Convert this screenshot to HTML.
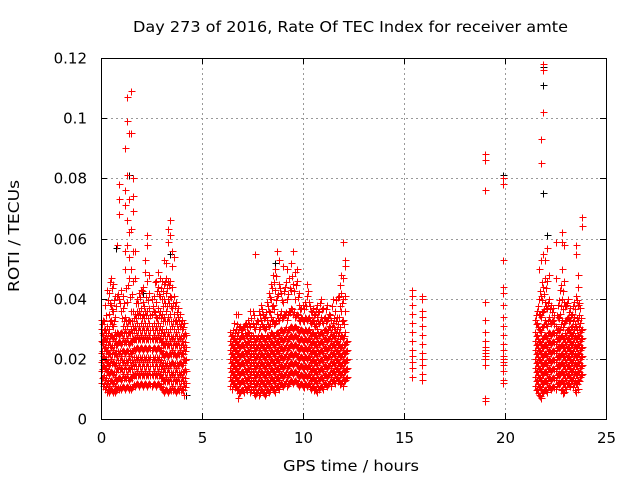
<!DOCTYPE html>
<html><head><meta charset="utf-8"><style>
body{margin:0;background:#fff}
svg{display:block;font-family:"DejaVu Sans","Liberation Sans",sans-serif}
</style></head><body>
<svg id="chart" width="640" height="480" viewBox="0 0 640 480">
<rect width="640" height="480" fill="#fff"/>
<text x="133" y="32" font-size="15" textLength="435" lengthAdjust="spacingAndGlyphs" fill="#000">Day 273 of 2016, Rate Of TEC Index for receiver amte</text>
<g id="grid"></g>
<g id="marks" shape-rendering="crispEdges"></g>
<rect x="101.5" y="58.5" width="505" height="361" fill="none" stroke="#000" stroke-width="1"/>
<g id="axes"></g>
<text x="283" y="471" font-size="15" textLength="136" lengthAdjust="spacingAndGlyphs">GPS time / hours</text>
<text transform="translate(19,292) rotate(-90)" font-size="15" textLength="112" lengthAdjust="spacingAndGlyphs">ROTI / TECUs</text>
</svg>
<script>
const xTicks=[0,5,10,15,20,25];
const yTicks=[0,0.02,0.04,0.06,0.08,0.1,0.12];
const yTickLabels=["0","0.02","0.04","0.06","0.08","0.1","0.12"];
const times=[0.0,0.1,0.2,0.3,0.4,0.5,0.6,0.7,0.8,0.9,1.0,1.1,1.2,1.3,1.4,1.5,1.6,1.7,1.8,1.9,2.0,2.1,2.2,2.3,2.4,2.5,2.6,2.7,2.8,2.9,3.0,3.1,3.2,3.3,3.4,3.5,3.6,3.7,3.8,3.9,4.0,4.1,4.2,
6.4,6.5,6.6,6.7,6.8,6.9,7.0,7.1,7.2,7.3,7.4,7.5,7.6,7.7,7.8,7.9,8.0,8.1,8.2,8.3,8.4,8.5,8.6,8.7,8.8,8.9,9.0,9.1,9.2,9.3,9.4,9.5,9.6,9.7,9.8,9.9,10.0,10.1,10.2,10.3,10.4,10.5,10.6,10.7,10.8,10.9,11.0,11.1,11.2,11.3,11.4,11.5,11.6,11.7,11.8,11.9,12.0,12.1,12.2,
15.4,15.9,19.0,19.9,
21.5,21.6,21.7,21.8,21.9,22.0,22.1,22.2,22.3,22.4,22.5,22.6,22.7,22.8,22.9,23.0,23.1,23.2,23.3,23.4,23.5,23.6,23.7,23.8];
const rotiValues=[
[.012,.016,.019,.022,.026,.030,.033],
[.011,.014,.018,.021,.025,.028,.033,.026],
[.010,.013,.017,.020,.024,.027,.030,.038],
[.009,.012,.016,.019,.023,.027,.031,.043],
[.009,.011,.015,.018,.022,.026,.030,.035,.042],
[.010,.013,.016,.020,.024,.028,.033,.038,.047],
[.009,.012,.015,.019,.023,.027,.031,.036,.045],
[.009,.011,.014,.018,.022,.026,.029,.034,.041],
[.010,.013,.017,.021,.025,.029,.041,.058],
[.010,.014,.018,.022,.026,.028,.040,.068,.073,.078],
[.010,.013,.017,.021,.025,.029,.036,.043],
[.011,.015,.019,.023,.027,.031,.037,.041],
[.010,.014,.018,.022,.026,.030,.034,.050,.056,.071,.076,.090],
[.011,.015,.019,.023,.027,.031,.039,.058,.066,.081,.099,.107],
[.010,.013,.017,.021,.025,.029,.033,.047,.054,.062,.073,.095],
[.010,.014,.018,.022,.026,.030,.036,.050,.063,.095,.109],
[.011,.015,.019,.023,.027,.031,.036,.046,.056,.069,.074,.080],
[.011,.015,.019,.023,.027,.031,.035,.047,.056],
[.012,.016,.020,.024,.028,.032,.036,.040],
[.011,.015,.019,.023,.027,.031,.036,.042],
[.012,.016,.020,.024,.028,.032,.037,.043],
[.011,.015,.019,.023,.027,.031,.035,.039,.044],
[.012,.016,.020,.024,.028,.032,.036,.049,.053],
[.011,.015,.019,.023,.027,.031,.036,.046,.058,.061],
[.012,.016,.020,.024,.028,.032,.037,.042,.048],
[.011,.015,.019,.023,.027,.031,.035,.040],
[.012,.016,.020,.024,.028,.032,.036,.041],
[.011,.015,.019,.023,.027,.031,.034,.039,.046],
[.012,.016,.020,.024,.028,.032,.037,.044,.049],
[.011,.015,.019,.023,.027,.031,.036,.041,.047],
[.010,.014,.018,.022,.026,.030,.035,.040,.046],
[.009,.013,.017,.021,.025,.029,.034,.040,.045,.053],
[.010,.014,.018,.022,.026,.030,.036,.042,.047,.052],
[.009,.013,.017,.021,.025,.029,.034,.040,.046,.059,.063],
[.010,.014,.018,.022,.026,.030,.035,.041,.046,.061,.066],
[.011,.015,.019,.023,.027,.031,.037,.044,.051,.056],
[.010,.014,.018,.022,.026,.030,.035,.041,.054],
[.009,.013,.017,.021,.025,.029,.033,.039],
[.010,.014,.018,.022,.026,.030,.034,.037],
[.011,.015,.019,.023,.027,.031,.035],
[.010,.014,.018,.022,.026,.030,.033],
[.008,.012,.016,.020,.024,.028,.032],
[.012,.016,.020,.024,.028],
[.011,.014,.017,.020,.023,.026,.029],
[.010,.013,.016,.019,.022,.025,.028],
[.012,.015,.018,.021,.024,.027,.032],
[.011,.014,.017,.020,.023,.026,.030,.035],
[.007,.010,.013,.016,.019,.022,.025,.029,.035],
[.009,.012,.015,.018,.021,.024,.027,.031],
[.010,.013,.016,.019,.022,.025,.028,.030],
[.009,.012,.015,.018,.021,.024,.027,.031],
[.010,.013,.016,.019,.022,.025,.028,.032],
[.011,.014,.017,.020,.023,.026,.029,.033],
[.009,.012,.015,.018,.021,.024,.027,.031,.036],
[.010,.013,.016,.019,.022,.025,.028,.032,.036],
[.008,.011,.014,.017,.020,.023,.026,.030,.055],
[.009,.012,.015,.018,.021,.024,.027,.033],
[.008,.011,.014,.017,.020,.023,.026,.030,.036],
[.010,.013,.016,.019,.022,.025,.028,.033,.038],
[.009,.012,.015,.018,.021,.024,.027,.031,.035],
[.008,.011,.014,.017,.020,.023,.026,.030,.034],
[.010,.013,.016,.019,.022,.025,.028,.033,.039],
[.009,.012,.015,.018,.021,.024,.027,.031,.036,.042],
[.011,.014,.017,.020,.023,.026,.029,.034,.040,.045],
[.010,.013,.016,.019,.022,.025,.028,.033,.038,.048],
[.009,.012,.015,.018,.021,.024,.027,.032,.043,.050],
[.011,.014,.017,.020,.023,.026,.029,.035,.041,.056],
[.010,.013,.016,.019,.022,.025,.028,.033,.045,.053],
[.012,.015,.018,.021,.024,.027,.030,.036,.042],
[.011,.014,.017,.020,.023,.026,.029,.034,.039,.051],
[.012,.015,.018,.021,.024,.027,.030,.035,.044],
[.011,.014,.017,.020,.023,.026,.029,.033,.040,.050],
[.012,.015,.018,.021,.024,.027,.030,.036,.047],
[.013,.016,.019,.022,.025,.028,.031,.037,.043,.052],
[.012,.015,.018,.021,.024,.027,.030,.035,.045,.056],
[.013,.016,.019,.022,.025,.028,.031,.034,.040,.049],
[.012,.015,.018,.021,.024,.027,.030,.035,.046,.050],
[.011,.014,.017,.020,.023,.026,.029,.033,.038,.042],
[.012,.015,.018,.021,.024,.027,.030,.034,.037],
[.011,.014,.017,.020,.023,.026,.029,.033,.038],
[.012,.015,.018,.021,.024,.027,.030,.034,.039],
[.011,.014,.017,.020,.023,.026,.029,.033,.041,.045],
[.012,.015,.018,.021,.024,.027,.030,.034,.039],
[.010,.013,.016,.019,.022,.025,.028,.032,.036],
[.011,.014,.017,.020,.023,.026,.029,.033,.037],
[.010,.013,.016,.019,.022,.025,.028,.031,.035],
[.009,.012,.015,.018,.021,.024,.027,.030,.034,.038],
[.010,.013,.016,.019,.022,.025,.028,.032,.036],
[.011,.014,.017,.020,.023,.026,.029,.034,.040],
[.010,.013,.016,.019,.022,.025,.028,.032,.037],
[.012,.015,.018,.021,.024,.027,.030,.034],
[.011,.014,.017,.020,.023,.026,.029,.033,.038],
[.012,.015,.018,.021,.024,.027,.031,.035],
[.011,.014,.017,.020,.023,.026,.029,.033],
[.013,.016,.019,.022,.025,.028,.032,.040],
[.012,.015,.018,.021,.024,.027,.030,.036],
[.014,.017,.020,.023,.026,.030,.034],
[.013,.016,.019,.022,.025,.029,.034,.041],
[.012,.015,.018,.021,.024,.028,.036,.042,.048],
[.011,.014,.017,.020,.023,.027,.033,.040,.047,.059],
[.013,.016,.019,.022,.025,.029,.036,.041,.051,.053],
[.014,.017,.020,.023,.026],
[.014,.017,.019,.021,.023,.026,.029,.032,.035,.038,.041,.043],
[.013,.015,.018,.020,.022,.025,.028,.031,.034,.036,.040,.041],
[.006,.007,.018,.020,.021,.022,.023,.024,.026,.029,.033,.039,.076,.086,.088],
[.012,.013,.016,.018,.019,.020,.021,.023,.025,.028,.031,.034,.038,.042,.044,.053,.078,.080],
[.011,.014,.017,.020,.023,.026,.029,.033],
[.010,.013,.016,.019,.022,.025,.028,.032,.036],
[.008,.011,.014,.017,.020,.023,.026,.030,.035,.040,.050],
[.007,.010,.013,.016,.019,.022,.025,.029,.034,.041,.053,.085,.093],
[.009,.012,.015,.018,.021,.024,.027,.031,.036,.044,.055,.102,.116,.118],
[.010,.013,.016,.019,.022,.025,.028,.033,.039,.047,.053],
[.009,.012,.015,.018,.021,.024,.027,.031,.037,.046,.057],
[.011,.014,.017,.020,.023,.026,.029,.034,.040,.048],
[.010,.013,.016,.019,.022,.025,.028,.032,.038],
[.011,.014,.017,.020,.023,.026,.029,.033,.037],
[.010,.013,.016,.019,.022,.025,.028,.031,.047,.059],
[.012,.015,.018,.021,.024,.027,.030,.034,.038],
[.012,.015,.018,.021,.024,.027,.030,.035,.043],
[.010,.013,.016,.019,.022,.025,.028,.033,.040,.050,.059,.062],
[.009,.012,.015,.018,.021,.024,.027,.032,.039,.046,.058],
[.010,.013,.016,.019,.022,.025,.028,.033,.038],
[.012,.015,.018,.021,.024,.027,.030,.034,.040],
[.011,.014,.017,.020,.023,.026,.029,.033,.037],
[.013,.016,.019,.022,.025,.028,.031,.035],
[.012,.015,.018,.021,.024,.027,.030,.034,.039],
[.009,.012,.015,.018,.021,.024,.027,.031,.041,.055,.058],
[.010,.013,.016,.019,.022,.025,.028,.033,.038,.044,.048],
[.014,.017,.020,.023,.026,.029,.032,.037],
[.015,.018,.021,.024,.027,.030,.064,.067]];
const times2=[0.05,0.15,0.25,0.35,0.45,0.55,0.65,0.75,0.85,0.95,1.05,1.15,1.25,1.35,1.45,1.55,1.65,1.75,1.85,1.95,2.05,2.15,2.25,2.35,2.45,2.55,2.65,2.75,2.85,2.95,3.05,3.15,3.25,3.35,3.45,3.55,3.65,3.75,3.85,3.95,4.05,4.15,
6.45,6.55,6.65,6.75,6.85,6.95,7.05,7.15,7.25,7.35,7.45,7.55,7.65,7.75,7.85,7.95,8.05,8.15,8.25,8.35,8.45,8.55,8.65,8.75,8.85,8.95,9.05,9.15,9.25,9.35,9.45,9.55,9.65,9.75,9.85,9.95,10.05,10.15,10.25,10.35,10.45,10.55,10.65,10.75,10.85,10.95,11.05,11.15,11.25,11.35,11.45,11.55,11.65,11.75,11.85,11.95,12.05,12.15,
21.55,21.65,21.75,21.85,21.95,22.05,22.15,22.25,22.35,22.45,22.55,22.65,22.75,22.85,22.95,23.05,23.15,23.25,23.35,23.45,23.55,23.65,23.75];
const rotiValues2=[
[.0135,.0165,.0195,.0225,.0255,.0285,.0315],
[.0115,.0145,.0175,.0205,.0235,.0265,.0295,.0325],
[.0105,.0135,.0165,.0195,.0225,.0255,.0285,.0345],
[.0095,.0125,.0155,.0185,.0215,.0245,.0285,.0395],
[.0095,.0125,.0155,.0185,.0215,.0245,.0275,.0325,.0385,.0455],
[.0095,.0125,.0155,.0185,.0215,.0245,.0275,.0315,.0365,.0435],
[.0095,.0125,.0155,.0185,.0215,.0245,.0275,.0325,.0395],
[.0095,.0125,.0155,.0185,.0215,.0245,.0275,.0375],
[.0105,.0135,.0165,.0195,.0225,.0255,.0285,.0415],
[.0105,.0135,.0165,.0195,.0225,.0255,.0285,.0385],
[.0105,.0135,.0165,.0195,.0225,.0255,.0285,.0335],
[.0105,.0135,.0165,.0195,.0225,.0255,.0285,.0325,.0385],
[.0105,.0135,.0165,.0195,.0225,.0255,.0285,.0325,.0435],
[.0105,.0135,.0165,.0195,.0225,.0255,.0285,.0325,.0445],
[.0105,.0135,.0165,.0195,.0225,.0255,.0285,.0325,.0405],
[.0105,.0135,.0165,.0195,.0225,.0255,.0285,.0325,.0415],
[.0115,.0145,.0175,.0205,.0235,.0265,.0295,.0335],
[.0115,.0145,.0175,.0205,.0235,.0265,.0295,.0335,.0385],
[.0115,.0145,.0175,.0205,.0235,.0265,.0295,.0345,.0385],
[.0115,.0145,.0175,.0205,.0235,.0265,.0295,.0345,.0405],
[.0115,.0145,.0175,.0205,.0235,.0265,.0295,.0335,.0425],
[.0115,.0145,.0175,.0205,.0235,.0265,.0295,.0335,.0375],
[.0115,.0145,.0175,.0205,.0235,.0265,.0295,.0345,.0405],
[.0115,.0145,.0175,.0205,.0235,.0265,.0295,.0335,.0395],
[.0115,.0145,.0175,.0205,.0235,.0265,.0295,.0345],
[.0115,.0145,.0175,.0205,.0235,.0265,.0295,.0375],
[.0115,.0145,.0175,.0205,.0235,.0265,.0295,.0355,.0455],
[.0115,.0145,.0175,.0205,.0235,.0265,.0295,.0335,.0425],
[.0115,.0145,.0175,.0205,.0235,.0265,.0295,.0345,.0415],
[.0105,.0135,.0165,.0195,.0225,.0255,.0285,.0335,.0435],
[.0095,.0125,.0155,.0185,.0215,.0245,.0275,.0325,.0375,.0425],
[.0095,.0125,.0155,.0185,.0215,.0245,.0275,.0325,.0385,.0455],
[.0095,.0125,.0155,.0185,.0215,.0245,.0275,.0325,.0375,.0435],
[.0095,.0125,.0155,.0185,.0215,.0245,.0275,.0325,.0385,.0445],
[.0095,.0125,.0155,.0185,.0215,.0245,.0275,.0325,.0375,.0405],
[.0095,.0125,.0155,.0185,.0215,.0245,.0275,.0325,.0385],
[.0095,.0125,.0155,.0185,.0215,.0245,.0275,.0325,.0375],
[.0095,.0125,.0155,.0185,.0215,.0245,.0275,.0315,.0355],
[.0095,.0125,.0155,.0185,.0215,.0245,.0275,.0325],
[.0095,.0125,.0155,.0185,.0215,.0245,.0275,.0315],
[.0095,.0125,.0155,.0185,.0215,.0245,.0275,.0305],
[.0105,.0135,.0165,.0195,.0225,.0255,.0285],
[.0125,.0155,.0185,.0215,.0245,.0275],
[.0115,.0145,.0175,.0205,.0235,.0265,.0295],
[.0105,.0135,.0165,.0195,.0225,.0255,.0285],
[.0095,.0125,.0155,.0185,.0215,.0245,.0275,.0315],
[.0085,.0115,.0145,.0175,.0205,.0235,.0265,.0305],
[.0095,.0125,.0155,.0185,.0215,.0245,.0275,.0295],
[.0095,.0125,.0155,.0185,.0215,.0245,.0275,.0305],
[.0105,.0135,.0165,.0195,.0225,.0255,.0285,.0315],
[.0095,.0125,.0155,.0185,.0215,.0245,.0275,.0305],
[.0105,.0135,.0165,.0195,.0225,.0255,.0285,.0315],
[.0095,.0125,.0155,.0185,.0215,.0245,.0275,.0335],
[.0085,.0115,.0145,.0175,.0205,.0235,.0265,.0305,.0345],
[.0085,.0115,.0145,.0175,.0205,.0235,.0265,.0315],
[.0095,.0125,.0155,.0185,.0215,.0245,.0275,.0325],
[.0085,.0115,.0145,.0175,.0205,.0235,.0265,.0305,.0345],
[.0095,.0125,.0155,.0185,.0215,.0245,.0275,.0315,.0365],
[.0085,.0115,.0145,.0175,.0205,.0235,.0265,.0305,.0335],
[.0085,.0115,.0145,.0175,.0205,.0235,.0265,.0305,.0355],
[.0095,.0125,.0155,.0185,.0215,.0245,.0275,.0315,.0375],
[.0095,.0125,.0155,.0185,.0215,.0245,.0275,.0315,.0355,.0405],
[.0105,.0135,.0165,.0195,.0225,.0255,.0285,.0325,.0375,.0435],
[.0095,.0125,.0155,.0185,.0215,.0245,.0275,.0315,.0365,.0455],
[.0105,.0135,.0165,.0195,.0225,.0255,.0285,.0325,.0395,.0475],
[.0105,.0135,.0165,.0195,.0225,.0255,.0285,.0335,.0415],
[.0115,.0145,.0175,.0205,.0235,.0265,.0295,.0345,.0435],
[.0115,.0145,.0175,.0205,.0235,.0265,.0295,.0335,.0395],
[.0115,.0145,.0175,.0205,.0235,.0265,.0295,.0345,.0425],
[.0125,.0155,.0185,.0215,.0245,.0275,.0305,.0355,.0455],
[.0115,.0145,.0175,.0205,.0235,.0265,.0295,.0345,.0415],
[.0125,.0155,.0185,.0215,.0245,.0275,.0305,.0355,.0435],
[.0125,.0155,.0185,.0215,.0245,.0275,.0305,.0365,.0475],
[.0125,.0155,.0185,.0215,.0245,.0275,.0305,.0355,.0425],
[.0125,.0155,.0185,.0215,.0245,.0275,.0305,.0345,.0445],
[.0115,.0145,.0175,.0205,.0235,.0265,.0295,.0345,.0405],
[.0115,.0145,.0175,.0205,.0235,.0265,.0295,.0325,.0365],
[.0115,.0145,.0175,.0205,.0235,.0265,.0295,.0335],
[.0105,.0135,.0165,.0195,.0225,.0255,.0285,.0325,.0365],
[.0115,.0145,.0175,.0205,.0235,.0265,.0295,.0335,.0375],
[.0115,.0145,.0175,.0205,.0235,.0265,.0295,.0335,.0425],
[.0105,.0135,.0165,.0195,.0225,.0255,.0285,.0325,.0375],
[.0105,.0135,.0165,.0195,.0225,.0255,.0285,.0325,.0355],
[.0095,.0125,.0155,.0185,.0215,.0245,.0275,.0315,.0345],
[.0095,.0125,.0155,.0185,.0215,.0245,.0275,.0315,.0365],
[.0105,.0135,.0165,.0195,.0225,.0255,.0285,.0325,.0355],
[.0105,.0135,.0165,.0195,.0225,.0255,.0285,.0325,.0385],
[.0105,.0135,.0165,.0195,.0225,.0255,.0285,.0325,.0365],
[.0115,.0145,.0175,.0205,.0235,.0265,.0295,.0335],
[.0115,.0145,.0175,.0205,.0235,.0265,.0295,.0325,.0365],
[.0115,.0145,.0175,.0205,.0235,.0265,.0295,.0335],
[.0125,.0155,.0185,.0215,.0245,.0275,.0305,.0345],
[.0125,.0155,.0185,.0215,.0245,.0275,.0305,.0375],
[.0125,.0155,.0185,.0215,.0245,.0275,.0305,.0335],
[.0135,.0165,.0195,.0225,.0255,.0285,.0325,.0395],
[.0125,.0155,.0185,.0215,.0245,.0275,.0315,.0405],
[.0115,.0145,.0175,.0205,.0235,.0265,.0305,.0375,.0445],
[.0125,.0155,.0185,.0215,.0245,.0275,.0325,.0385],
[.0125,.0155,.0185,.0215,.0245,.0275,.0315],
[.0135,.0165,.0195,.0225,.0255],
[.0095,.0125,.0155,.0185,.0215,.0245,.0275,.0315,.0345],
[.0085,.0115,.0145,.0175,.0205,.0235,.0265,.0305,.0375],
[.0075,.0105,.0135,.0165,.0195,.0225,.0255,.0295,.0345,.0425],
[.0085,.0115,.0145,.0175,.0205,.0235,.0265,.0305,.0355,.0395,.0455],
[.0095,.0125,.0155,.0185,.0215,.0245,.0275,.0315,.0365,.0415],
[.0095,.0125,.0155,.0185,.0215,.0245,.0275,.0315,.0375,.0435],
[.0105,.0135,.0165,.0195,.0225,.0255,.0285,.0325,.0385],
[.0105,.0135,.0165,.0195,.0225,.0255,.0285,.0325,.0365],
[.0105,.0135,.0165,.0195,.0225,.0255,.0285,.0325,.0355],
[.0105,.0135,.0165,.0195,.0225,.0255,.0285,.0315,.0345],
[.0115,.0145,.0175,.0205,.0235,.0265,.0295,.0345],
[.0115,.0145,.0175,.0205,.0235,.0265,.0295,.0335,.0395],
[.0095,.0125,.0155,.0185,.0215,.0245,.0275,.0315,.0375,.0445],
[.0085,.0115,.0145,.0175,.0205,.0235,.0265,.0305,.0365,.0425],
[.0105,.0135,.0165,.0195,.0225,.0255,.0285,.0325,.0375],
[.0115,.0145,.0175,.0205,.0235,.0265,.0295,.0335,.0385],
[.0115,.0145,.0175,.0205,.0235,.0265,.0295,.0325,.0355],
[.0125,.0155,.0185,.0215,.0245,.0275,.0305,.0345],
[.0105,.0135,.0165,.0195,.0225,.0255,.0285,.0325,.0375],
[.0095,.0125,.0155,.0185,.0215,.0245,.0275,.0315,.0365],
[.0115,.0145,.0175,.0205,.0235,.0265,.0295,.0335,.0395],
[.0125,.0155,.0185,.0215,.0245,.0275,.0305,.0345,.0385],
[.0145,.0175,.0205,.0235,.0265,.0295,.0335]];
const blackTimes=[0.75,1.3,1.4,1.5,1.4,3.4,2.1,4.2,7.6,19.9,19.9,21.9,21.9,21.9,23.8,22.1,8.6];
const blackValues=[0.057,0.099,0.095,0.095,0.081,0.055,0.042,0.008,0.055,0.081,0.053,0.117,0.111,0.075,0.067,0.061,0.052];

const NS='http://www.w3.org/2000/svg';
const X0=101,X1=606,Y0=419,Y1=58;
function xScale(t){return X0+(t-0)/(25-0)*(X1-X0);}
function yScale(v){return Y0-(v-0)/(0.12-0)*(Y0-Y1);}
const grid=document.getElementById('grid'),axes=document.getElementById('axes'),marks=document.getElementById('marks');
function mk(tag,attrs,parent){const e=document.createElementNS(NS,tag);for(const k in attrs)e.setAttribute(k,attrs[k]);parent.appendChild(e);return e;}
xTicks.forEach((t,i)=>{
  const x=Math.round(xScale(t))+0.5;
  if(i>0&&i<xTicks.length-1){const g=mk('line',{x1:x,x2:x,y1:Y1,y2:Y0,stroke:'#999','stroke-dasharray':'2,3'},grid);
  
  }
  const a=mk('path',{d:`M${x} ${Y0}v-6M${x} ${Y1}v6`,stroke:'#000'},axes);
  
  
  const l=mk('text',{x:x,y:443,'font-size':15,'text-anchor':'middle'},axes);l.textContent=String(t);
  
  
});
yTicks.forEach((v,i)=>{
  const y=Math.round(yScale(v))+0.5;
  if(i>0&&i<yTicks.length-1){const g=mk('line',{x1:X0,x2:X1,y1:y,y2:y,stroke:'#999','stroke-dasharray':'2,3'},grid);
  
  }
  const a=mk('path',{d:`M${X0} ${y}h6M${X1} ${y}h-6`,stroke:'#000'},axes);
  
  
  const l=mk('text',{x:87,y:y+5,'font-size':15,'text-anchor':'end'},axes);l.textContent=yTickLabels[i];
  
  
});
function plus(x,y){x=Math.round(x)+0.5;y=Math.round(y)+0.5;return 'M'+(x-3)+' '+y+'h7M'+x+' '+(y-3)+'v7';}
let bd='';
blackTimes.forEach((t,i)=>{bd+=plus(xScale(t),yScale(blackValues[i]));});
const bp=mk('path',{d:bd,stroke:'#000','stroke-width':1,fill:'none'},marks);


let rd='';
times.forEach((t,i)=>{(rotiValues[i]||[]).forEach(v=>{rd+=plus(xScale(t),yScale(v));});});
times2.forEach((t,i)=>{(rotiValues2[i]||[]).forEach(v=>{rd+=plus(xScale(t),yScale(v));});});
const rp=mk('path',{d:rd,stroke:'#ff0000','stroke-width':1,fill:'none'},marks);


</script>
</body></html>
